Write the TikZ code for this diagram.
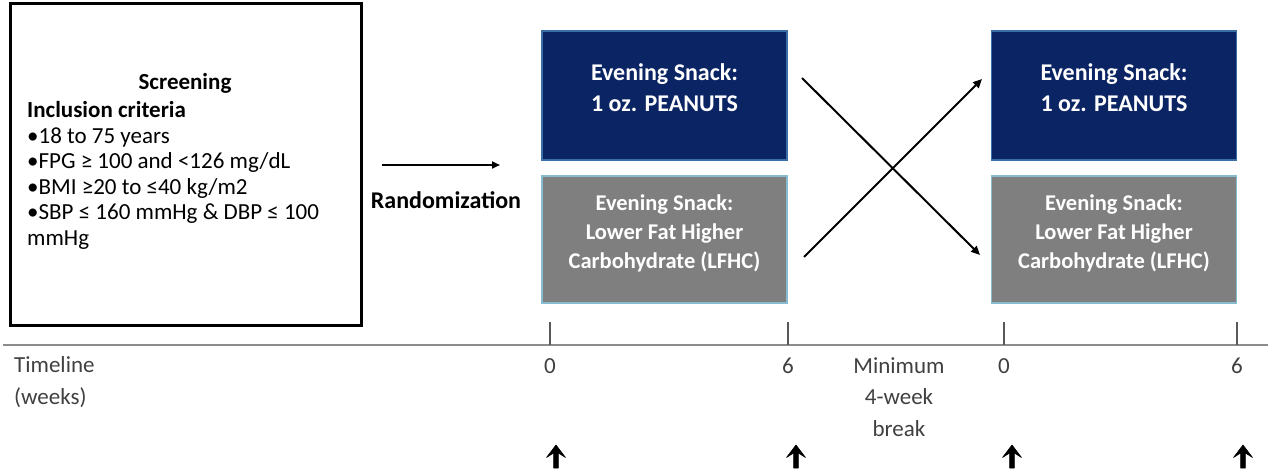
\documentclass[tikz,border=0pt]{standalone}
\usepackage{fontspec}
\setmainfont{Carlito}
\usetikzlibrary{arrows.meta}
\definecolor{navy}{HTML}{0B2463}
\definecolor{navyedge}{HTML}{3A6EA5}
\definecolor{graybox}{HTML}{7F7F7F}
\definecolor{grayedge}{HTML}{86BCD0}
\definecolor{tltext}{HTML}{404040}
\definecolor{tlline}{HTML}{8C8C8C}
\definecolor{tickcol}{HTML}{595959}
\tikzset{
  screenbox/.style={draw=black, line width=3pt, inner sep=0pt, minimum width=351pt, minimum height=321pt},
  peanutbox/.style={draw=navyedge, fill=navy, line width=1.2pt, inner sep=0pt, minimum width=245pt, minimum height=129pt},
  lfhcbox/.style={draw=grayedge, fill=graybox, line width=1.5pt, inner sep=0pt, minimum width=245pt, minimum height=127pt},
  boxtxt/.style={text=white, font=\bfseries\fontsize{24}{31}\selectfont, align=center, inner sep=0pt},
  lfhctxt/.style={text=white, font=\bfseries\fontsize{22.5}{29}\selectfont, align=center, inner sep=0pt},
  tltxt/.style={text=tltext, font=\fontsize{23}{31.5}\selectfont, inner sep=0pt},
  crossarrow/.style={line width=2pt, -{Triangle[length=9pt,width=8pt]}},
  randarrow/.style={line width=2pt, -{Triangle[length=8pt,width=7pt]}},
  tickline/.style={draw=tickcol, line width=1.3pt},
  visitarrow/.style={fill=black, draw=black, line width=0.6pt, line join=round},
}
\begin{document}
\begin{tikzpicture}[x=1pt,y=-1pt]
\useasboundingbox (0,0) rectangle (1268,476);
% screening
\node[screenbox] (scr) at (185.5,164.5) {};
\node[font=\bfseries\fontsize{23}{25.5}\selectfont, anchor=base, inner sep=0pt] (scrtitle) at (185,90) {Screening};
\node[font=\fontsize{23}{25.5}\selectfont, anchor=north west, align=left, inner sep=0pt] (crit) at (27,101.5)
  {\textbf{Inclusion criteria}\\
   •18 to 75 years\\
   •FPG ≥ 100 and <126 mg/dL\\
   •BMI ≥20 to ≤40 kg/m2\\
   •SBP ≤ 160 mmHg \& DBP ≤ 100\\
   mmHg};
% randomization
\coordinate (ra1) at (382,165);
\coordinate (ra2) at (500,165);
\draw[randarrow] (ra1) -- (ra2);
\node[font=\bfseries\fontsize{24}{28}\selectfont, inner sep=0pt] (rand) at (446,200) {Randomization};
% period 1 boxes
\node[peanutbox] (p1) at (664.5,95.5) {};
\node[boxtxt] (p1t) at (664.5,88) {Evening Snack:\\1 oz. PEANUTS};
\node[lfhcbox] (l1) at (664.5,239.5) {};
\node[lfhctxt] (l1t) at (664.5,233) {Evening Snack:\\Lower Fat Higher\\Carbohydrate (LFHC)};
% period 2 boxes
\node[peanutbox] (p2) at (1114,95.5) {};
\node[boxtxt] (p2t) at (1114,88) {Evening Snack:\\1 oz. PEANUTS};
\node[lfhcbox] (l2) at (1114,239.5) {};
\node[lfhctxt] (l2t) at (1114,233) {Evening Snack:\\Lower Fat Higher\\Carbohydrate (LFHC)};
% crossover
\coordinate (c1a) at (802,78);
\coordinate (c1b) at (980,255);
\coordinate (c2a) at (804,257);
\coordinate (c2b) at (982,79);
\draw[crossarrow] (c1a) -- (c1b);
\draw[crossarrow] (c2a) -- (c2b);
% timeline
\coordinate (tlL) at (3,345);
\coordinate (tlR) at (1268,345);
\draw[draw=tlline, line width=2pt] (tlL) -- (tlR);
\foreach \n/\x in {ta/550, tb/788, tc/1004, td/1237}{
  \coordinate (\n top) at (\x,322);
  \coordinate (\n bot) at (\x,345);
  \draw[tickline] (\n top) -- (\n bot);
}
\node[tltxt, anchor=west, align=left] (tl) at (14,382) {Timeline\\(weeks)};
\node[tltxt] (n0a) at (550,366) {0};
\node[tltxt] (n6a) at (788,366) {6};
\node[tltxt] (n0b) at (1004,366) {0};
\node[tltxt] (n6b) at (1237,366) {6};
\node[tltxt, align=center] (brk) at (899,397) {Minimum\\4-week\\break};
% visit arrows
\foreach \x in {556, 796, 1012, 1243}{
  \filldraw[visitarrow] (\x,445) -- (\x+9.5,457.5) -- (\x+2.4,453) -- (\x+2.4,468) -- (\x-2.4,468)
     -- (\x-2.4,453) -- (\x-9.5,457.5) -- cycle;
}
\end{tikzpicture}
\end{document}
